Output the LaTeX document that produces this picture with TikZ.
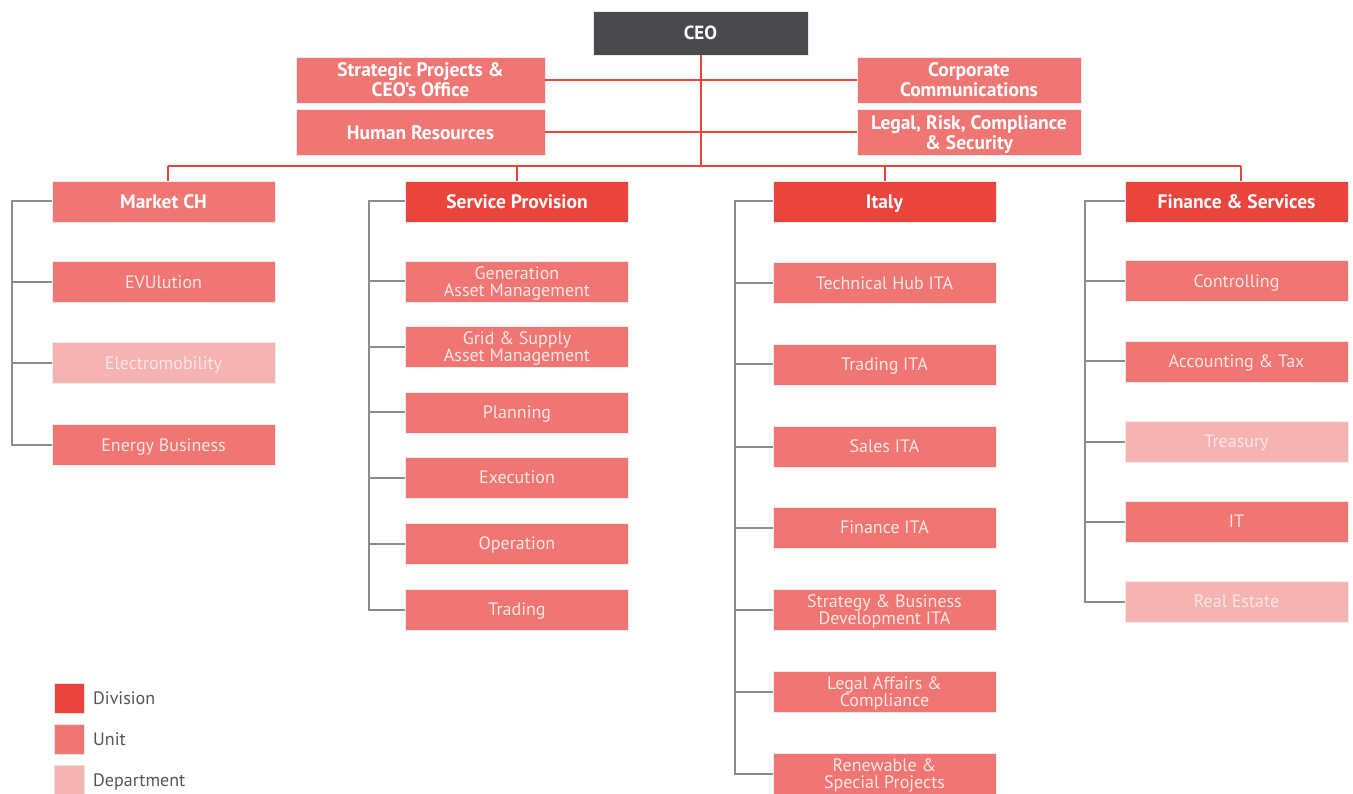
\documentclass[tikz,border=0pt]{standalone}
\usepackage{fontspec}
\setmainfont{PT Sans}
\definecolor{divc}{HTML}{E9453C}
\definecolor{unitc}{HTML}{EF7672}
\definecolor{deptc}{HTML}{F5B3B1}
\definecolor{ceoc}{HTML}{4A4A4C}
\definecolor{redline}{HTML}{E8453C}
\definecolor{grayline}{HTML}{8C8C8C}
\definecolor{unittext}{HTML}{FDE6E4}
\definecolor{legtext}{HTML}{555555}
\tikzset{
  box/.style={rectangle, inner sep=0pt, align=center, minimum width=223pt, minimum height=41pt,
    font=\fontsize{18}{17}\selectfont, draw=black!8, line width=0.6pt, text depth=0pt},
  division/.style={box, fill=divc, text=white, font=\fontsize{19.5}{17}\selectfont\bfseries},
  unit/.style={box, fill=unitc, text=unittext},
  dept/.style={box, fill=deptc, text=unittext},
  topbox/.style={box, fill=unitc, text=white, minimum height=46pt, font=\fontsize{19.5}{20}\selectfont\bfseries},
  ceobox/.style={box, fill=ceoc, text=white, minimum width=215pt, minimum height=44pt, font=\fontsize{19}{17}\selectfont\bfseries},
  redl/.style={draw=redline, line width=2pt},
  grayl/.style={draw=grayline, line width=2pt},
  legsq/.style={rectangle, inner sep=0pt, minimum width=30pt, minimum height=30pt, draw=black!10, line width=0.6pt},
  legtxt/.style={anchor=west, inner sep=0pt, text=legtext, font=\fontsize{18}{17}\selectfont, text depth=0pt},
}
\begin{document}
\begin{tikzpicture}[x=1pt,y=-1pt]
\useasboundingbox (0,0) rectangle (1353,794);
\fill[white] (0,0) rectangle (1353,794);
\clip (0,0) rectangle (1353,794);

% top
\node[ceobox] (ceo) at (700.5,33) {CEO};
\node[topbox, minimum width=249pt] (strat) at (420.5,80) {Strategic Projects \&\\CEO's Office};
\node[topbox, minimum width=224pt] (corp) at (969,80) {Corporate\\Communications};
\node[topbox, minimum width=249pt] (hr) at (420.5,132.5) {Human Resources};
\node[topbox, minimum width=224pt] (legal) at (969,132.5) {Legal, Risk, Compliance\\\& Security};

% columns
\node[unit, font=\fontsize{19.5}{17}\selectfont\bfseries, text=white] (mch) at (163.5,201.5) {Market CH};
\node[unit] (evu) at (163.5,282) {EVUlution};
\node[dept] (elec) at (163.5,363) {Electromobility};
\node[unit] (energy) at (163.5,445) {Energy Business};

\node[division] (sp) at (517,201.5) {Service Provision};
\node[unit] (gen) at (517,281.5) {Generation\\Asset Management};
\node[unit] (grid) at (517,347) {Grid \& Supply\\Asset Management};
\node[unit] (plan) at (517,412.5) {Planning};
\node[unit] (exec) at (517,477.5) {Execution};
\node[unit] (oper) at (517,543.5) {Operation};
\node[unit] (trad) at (517,609.5) {Trading};

\node[division] (ita) at (884.5,201.5) {Italy};
\node[unit] (tech) at (884.5,283) {Technical Hub ITA};
\node[unit] (tradita) at (884.5,364.5) {Trading ITA};
\node[unit] (sales) at (884.5,446.5) {Sales ITA};
\node[unit] (finita) at (884.5,527.5) {Finance ITA};
\node[unit] (sbd) at (884.5,609.5) {Strategy \& Business\\Development ITA};
\node[unit] (lac) at (884.5,691.5) {Legal Affairs \&\\Compliance};
\node[unit] (ren) at (884.5,774) {Renewable \&\\Special Projects};

\node[division] (fs) at (1236.5,201.5) {Finance \& Services};
\node[unit] (ctrl) at (1236.5,281) {Controlling};
\node[unit] (acct) at (1236.5,361.5) {Accounting \& Tax};
\node[dept] (treas) at (1236.5,441.5) {Treasury};
\node[unit] (it) at (1236.5,521.5) {IT};
\node[dept] (re) at (1236.5,601.5) {Real Estate};

% red connectors
\coordinate (busL) at (168,166);
\coordinate (busR) at (1241,166);
\coordinate (ceoj) at (700.5,166);
\draw[redl] (ceo.south) -- (ceoj);
\draw[redl] (strat.east) -- (corp.west);
\draw[redl] (hr.east) -- (legal.west);
\draw[redl] (busL) -- (busR);
\draw[redl] (busL) -- (busL |- mch.north);
\draw[redl] (sp.north) -- (sp.north |- busL);
\draw[redl] (ita.north) -- (ita.north |- busL);
\draw[redl] (busR) -- (busR |- fs.north);

% gray connectors
\coordinate (s1) at (12,0);
\coordinate (s2) at (369,0);
\coordinate (s3) at (735,0);
\coordinate (s4) at (1085,0);
\draw[grayl, line join=miter] (mch.west) -- (mch.west -| s1) -- (energy.west -| s1) -- (energy.west);
\foreach \n in {evu,elec} \draw[grayl] (\n.west -| s1) -- (\n.west);
\draw[grayl] (sp.west) -- (sp.west -| s2) -- (trad.west -| s2) -- (trad.west);
\foreach \n in {gen,grid,plan,exec,oper} \draw[grayl] (\n.west -| s2) -- (\n.west);
\draw[grayl] (ita.west) -- (ita.west -| s3) -- (ren.west -| s3) -- (ren.west);
\foreach \n in {tech,tradita,sales,finita,sbd,lac} \draw[grayl] (\n.west -| s3) -- (\n.west);
\draw[grayl] (fs.west) -- (fs.west -| s4) -- (re.west -| s4) -- (re.west);
\foreach \n in {ctrl,acct,treas,it} \draw[grayl] (\n.west -| s4) -- (\n.west);

% legend
\node[legsq, fill=divc] (ld) at (69,698) {};
\node[legsq, fill=unitc] (lu) at (69,739) {};
\node[legsq, fill=deptc] (lp) at (69,780) {};
\node[legtxt] (ldt) at (93,698) {Division};
\node[legtxt] (lut) at (93,739) {Unit};
\node[legtxt] (lpt) at (93,780) {Department};
\end{tikzpicture}
\end{document}
